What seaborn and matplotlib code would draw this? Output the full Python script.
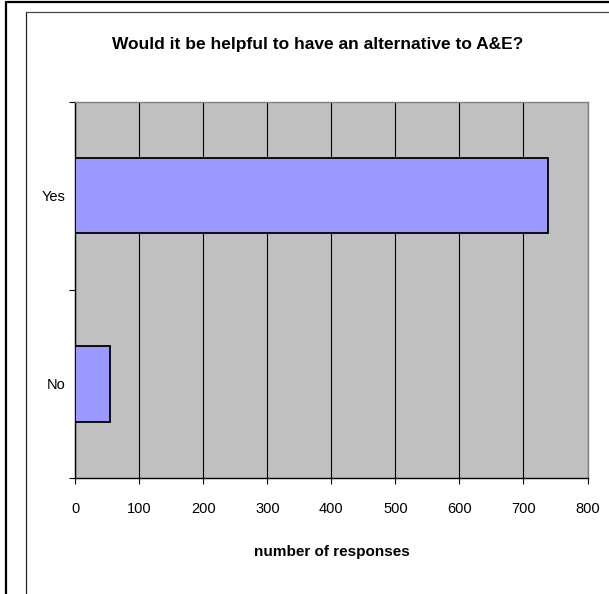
import matplotlib
matplotlib.use("Agg")
import matplotlib.pyplot as plt
from matplotlib.lines import Line2D
import seaborn as sns
import pandas as pd

# Survey answers and counts
answers = ["Yes", "No"]
responses = [739, 54]
x_ticks = [0, 100, 200, 300, 400, 500, 600, 700, 800]

title_text = "Would it be helpful to have an alternative to A&E?"
x_label = "number of responses"

sns.set_theme(style="white")
plt.rcParams["font.family"] = ["Liberation Sans", "DejaVu Sans"]
plt.rcParams["text.color"] = "black"
plt.rcParams["xtick.color"] = "black"
plt.rcParams["ytick.color"] = "black"
plt.rcParams["axes.labelcolor"] = "black"

df = pd.DataFrame({"answer": answers, "count": responses})

fig = plt.figure(figsize=(6.09, 5.94), dpi=100)
ax = fig.add_axes([0.1236, 0.1953, 0.8411, 0.6335])
ax.set_facecolor("#C0C0C0")

sns.barplot(data=df, x="count", y="answer", order=answers, orient="h",
            color="#9999FF", saturation=1, width=0.4,
            edgecolor="black", linewidth=1.3, ax=ax, zorder=3)

ax.set_xlim(0, 800)
ax.set_ylim(1.5, -0.5)
ax.set_xticks(x_ticks)
ax.set_xticklabels([str(v) for v in x_ticks], fontsize=10.5)
ax.set_yticks([0, 1])
ax.set_yticklabels(answers, fontsize=10.5)
# tick marks sit on the category boundaries, labels at the centres
ax.set_yticks([-0.5, 0.5, 1.5], minor=True)
ax.tick_params(axis="y", which="major", length=0, pad=7)
ax.tick_params(axis="y", which="minor", left=True, length=4, width=0.8, color="black")
ax.tick_params(axis="x", bottom=True, length=4, width=0.8, color="black", pad=13)

ax.xaxis.grid(True, color="black", linewidth=0.8, zorder=1)
ax.yaxis.grid(False)
ax.set_axisbelow(True)

for side in ("left", "bottom"):
    ax.spines[side].set_color("black")
    ax.spines[side].set_linewidth(1.0)
for side in ("top", "right"):
    ax.spines[side].set_color("#808080")
    ax.spines[side].set_linewidth(1.0)

ax.set_ylabel("")
ax.set_xlabel(x_label, fontsize=11, fontweight="bold", labelpad=21)

fig.text(318 / 609, 1 - 45 / 594, title_text, ha="center", va="center",
         fontsize=12.5, fontweight="bold")

# Frames around the chart area
W, H = 609, 594
def fline(xs, ys, **kw):
    fig.add_artist(Line2D([x / W for x in xs], [1 - y / H for y in ys],
                          transform=fig.transFigure, **kw))

fline([5.5, 5.5], [1.5, 594], color="black", linewidth=1.6)
fline([5.5, 609], [1.5, 1.5], color="black", linewidth=1.6)
fline([26, 26], [12, 594], color="#222222", linewidth=0.9)
fline([26, 609], [12, 12], color="#444444", linewidth=0.9)

fig.savefig("out.png", dpi=100, facecolor="white")
